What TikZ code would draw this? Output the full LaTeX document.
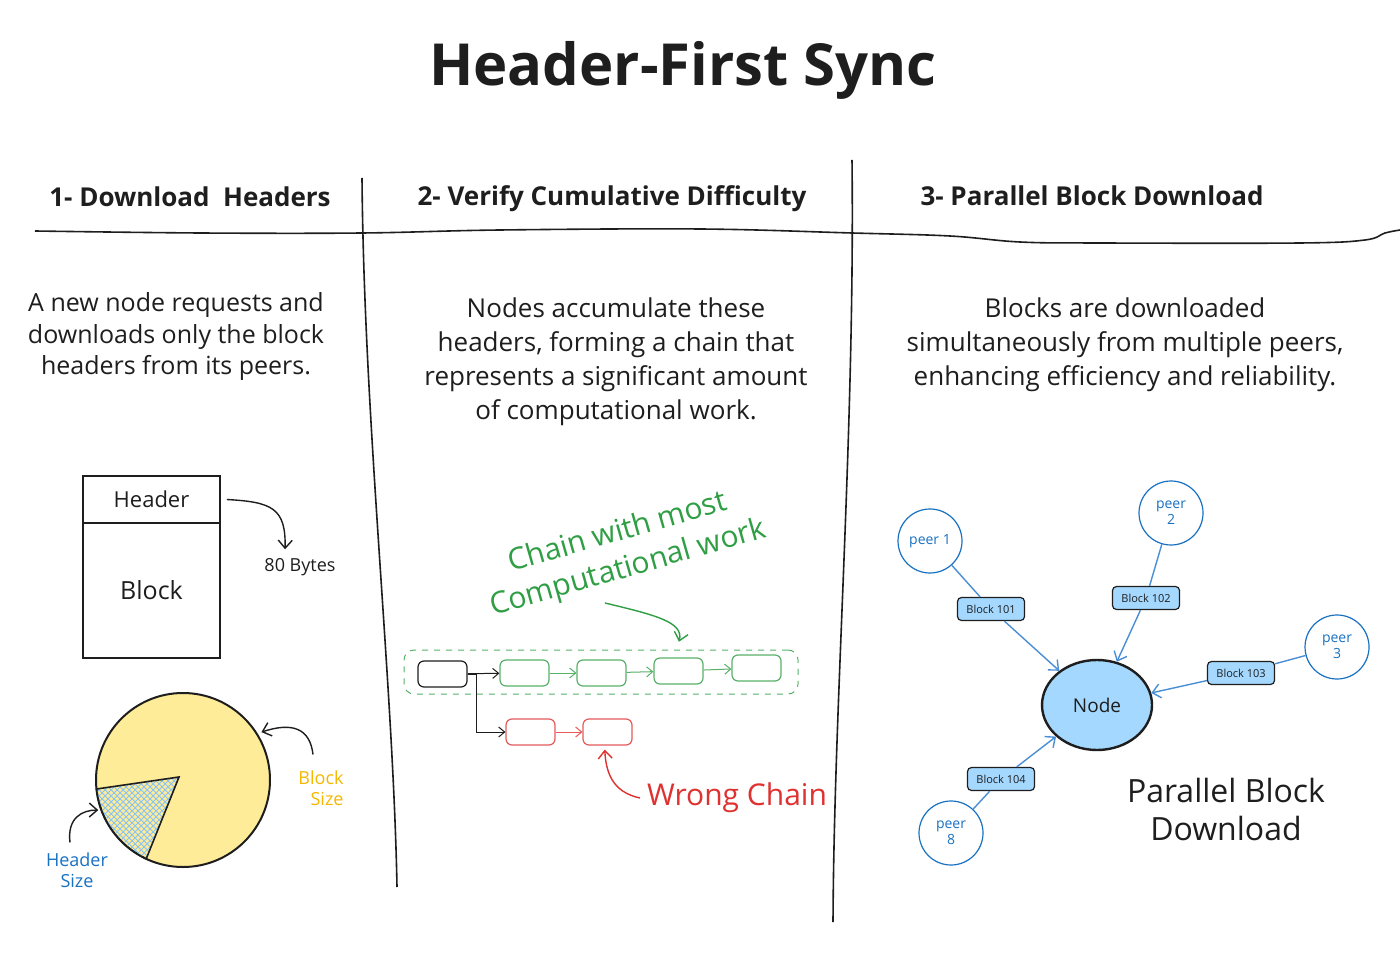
\documentclass[tikz,border=0pt]{standalone}
\usepackage{fontspec}
\setmainfont{Open Sans}
\usetikzlibrary{arrows.meta,patterns,shapes.geometric}
\definecolor{ink}{HTML}{1E1E1E}
\definecolor{skyfill}{HTML}{A5D8FF}
\definecolor{sunfill}{HTML}{FFEC99}
\definecolor{sunink}{HTML}{F5B800}
\definecolor{bluink}{HTML}{1971C2}
\definecolor{grnink}{HTML}{2F9E44}
\definecolor{redink}{HTML}{E03131}
\definecolor{flowblue}{HTML}{4A8FD6}
\begin{document}
\begin{tikzpicture}[x=0.5pt,y=-0.5pt,
  every node/.style={text=ink},
  divider/.style={draw=ink, line width=0.8pt},
  sect/.style={anchor=base, font=\fontsize{13}{15}\selectfont\bfseries},
  body/.style={align=center, font=\fontsize{12.5}{15.75}\selectfont},
  hand/.style={draw=ink, line width=0.8pt, inner sep=0, minimum width=68.5pt},
  sk arrow/.style={draw=ink, line width=0.7pt, -{Straight Barb[length=4pt,width=7pt]}},
  cell/.style={rounded corners=3pt, minimum width=24.5pt, minimum height=13pt, line width=0.6pt},
  ch arrow/.style={line width=0.5pt, -{Straight Barb[length=3pt,width=5pt]}},
  peer/.style={circle, draw=bluink, minimum size=32pt, inner sep=0, text=bluink, align=center, font=\fontsize{7}{8}\selectfont, line width=0.6pt},
  blkbox/.style={rectangle, rounded corners=2pt, draw=ink, fill=skyfill, minimum width=33.5pt, minimum height=11.5pt, inner sep=0, font=\fontsize{5.5}{6}\selectfont, line width=0.6pt},
  flow/.style={draw=flowblue, line width=0.7pt}]
\fill[white] (0,0) rectangle (1400,961);
\useasboundingbox (0,0) rectangle (1400,961);
% title and columns
\node[font=\fontsize{29}{35}\selectfont\bfseries] (title) at (683,70) {Header-First Sync};
\node[sect] (s1) at (190,207) {1- Download\ \ Headers};
\node[sect] (s2) at (612,206) {2- Verify Cumulative Difficulty};
\node[sect] (s3) at (1092,206) {3- Parallel Block Download};
\draw[divider] plot[smooth, tension=0.6] coordinates {(35,231) (200,233) (362,233) (500,230) (700,229) (852,233) (950,236) (1020,242) (1100,243) (1300,243) (1365,240) (1385,233) (1400,230)};
\draw[divider] (362,178) .. controls (364,420) and (393,680) .. (397,887);
\draw[divider] (852,160) .. controls (855,430) and (834,700) .. (833,922);
\node[body] (t1) at (176,337) {A new node requests and\\downloads only the block\\headers from its peers.};
\node[body, font=\fontsize{13}{17}\selectfont] (t2) at (616,362) {Nodes accumulate these\\headers, forming a chain that\\represents a significant amount\\of computational work.};
\node[body, font=\fontsize{13}{17}\selectfont] (t3) at (1125,345) {Blocks are downloaded\\simultaneously from multiple peers,\\enhancing efficiency and reliability.};
% header and block
\node[hand, minimum height=23.5pt, font=\fontsize{11}{13}\selectfont] (hdr) at (151.5,499.5) {Header};
\node[hand, minimum height=67.5pt, font=\fontsize{12.5}{14}\selectfont] (blk) at (151.5,590.5) {Block};
\node[font=\fontsize{9}{11}\selectfont] (bytes) at (300,567) {80 Bytes};
\draw[sk arrow, shorten >=1pt] ([xshift=3pt]hdr.east) .. controls (272,502) and (286,508) .. ([xshift=-7.5pt]bytes.north);
% pie
\node[circle, draw=ink, fill=sunfill, line width=1pt, minimum size=87pt, inner sep=0] (pie) at (183,780) {};
\draw[ink, line width=0.8pt, pattern=crosshatch, pattern color=skyfill!80!bluink] (179,777) -- (96.5,789) arc[start angle=186, end angle=245, radius=43.5pt] -- cycle;
\node[font=\fontsize{9}{10.5}\selectfont, text=sunink, align=right] (bsz) at (321,788) {Block\\Size};
\draw[sk arrow, shorten >=2pt] ([xshift=-4pt,yshift=4.5pt]bsz.north) .. controls (310,728) and (292,722) .. (pie.32);
\node[font=\fontsize{9}{10.5}\selectfont, text=bluink, align=center] (hsz) at (77,870) {Header\\Size};
\draw[sk arrow, shorten >=1pt] ([xshift=-3.5pt,yshift=1.5pt]hsz.north) .. controls (67,818) and (82,810) .. (pie.200);
% chains
\node[draw=grnink!80, dashed, rounded corners=5pt, minimum width=197pt, minimum height=22pt, line width=0.5pt] (best) at (601,672) {};
\node[cell, draw=ink] (c0) at (442.5,674) {};
\node[cell, draw=grnink!80] (g1) at (524.5,673) {};
\node[cell, draw=grnink!80] (g2) at (601.5,673) {};
\node[cell, draw=grnink!80] (g3) at (678.5,671) {};
\node[cell, draw=grnink!80] (g4) at (756.5,668) {};
\node[cell, draw=redink!80] (r1) at (530.5,732) {};
\node[cell, draw=redink!80] (r2) at (607.5,732) {};
\draw[ch arrow, ink] (c0) -- (g1);
\draw[ch arrow, grnink!80] (g1) -- (g2);
\draw[ch arrow, grnink!80] (g2) -- (g3);
\draw[ch arrow, grnink!80] (g3) -- (g4);
\draw[ch arrow, ink] (c0.east) -- ++(4.5pt,0) |- (r1.west);
\draw[ch arrow, redink!80] (r1) -- (r2);
\node[rotate=16, align=center, text=grnink, font=\fontsize{15}{18.5}\selectfont] (most) at (623,551) {Chain with most\\Computational work};
\coordinate (gtail) at (605,603);
\draw[sk arrow, draw=grnink, shorten >=4pt] (gtail) .. controls (655,615) and (684,622) .. ([xshift=38pt]best.north);
\node[text=redink, font=\fontsize{15}{18}\selectfont] (wrong) at (737,798) {Wrong Chain};
\draw[sk arrow, draw=redink, shorten >=2pt] (wrong.west) .. controls (612,792) and (606,772) .. ([xshift=-1.5pt]r2.south);
% peers
\node[peer] (p1) at (930,541) {peer 1};
\node[peer] (p2) at (1171,513) {peer\\2};
\node[peer] (p3) at (1337,647) {peer\\3};
\node[peer] (p8) at (951,833) {peer\\8};
\node[ellipse, draw=ink, line width=1.2pt, fill=skyfill, minimum width=55pt, minimum height=45pt, font=\fontsize{9.5}{11}\selectfont] (nd) at (1097,705) {Node};
\node[blkbox] (b101) at (991,609) {Block 101};
\node[blkbox] (b102) at (1146,598) {Block 102};
\node[blkbox] (b103) at (1241,673) {Block 103};
\node[blkbox] (b104) at (1001,779) {Block 104};
\draw[flow] (p1) -- (b101);
\draw[flow, sk arrow, draw=flowblue] (b101) -- (nd);
\draw[flow] (p2) -- (b102);
\draw[flow, sk arrow, draw=flowblue] (b102) -- (nd);
\draw[flow] (p3) -- (b103);
\draw[flow, sk arrow, draw=flowblue] (b103) -- (nd);
\draw[flow] (p8) -- (b104);
\draw[flow, sk arrow, draw=flowblue] (b104) -- (nd);
\node[align=center, font=\fontsize{16}{19}\selectfont] (pbd) at (1226,809) {Parallel Block\\Download};
\end{tikzpicture}
\end{document}
